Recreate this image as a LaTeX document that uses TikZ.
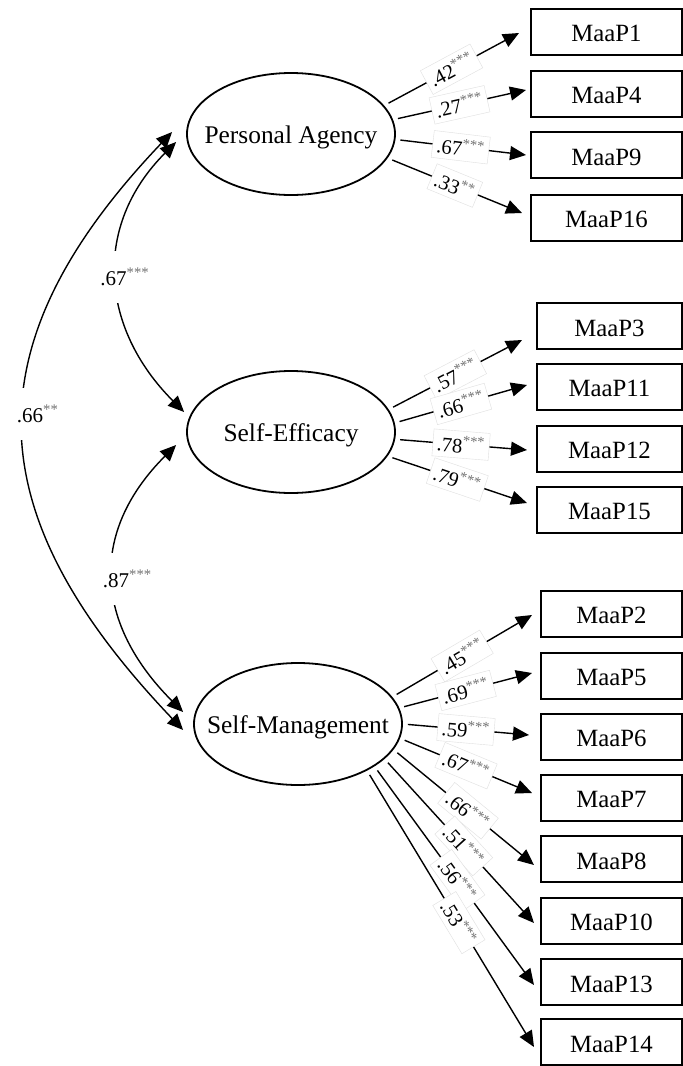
\documentclass[tikz,border=0pt]{standalone}
\usepackage{fontspec}
\setmainfont{Liberation Serif}
\usetikzlibrary{shapes.geometric,arrows.meta}
\newcommand\mystars[1]{\textsuperscript{\textcolor{black!55}{#1}}}
\begin{document}
\begin{tikzpicture}[x=0.5pt,y=-0.5pt,
  latent/.style={ellipse,draw,line width=0.9pt,minimum width=104pt,minimum height=61pt,inner sep=0pt,
    label={[font=\fontsize{12.7}{14}\selectfont,inner sep=0pt,yshift=-1.5pt]center:#1}},
  obs/.style={rectangle,draw,line width=1pt,minimum width=#1,minimum height=23pt,inner sep=0pt,text height=1.0em,text depth=0pt,font=\fontsize{12.4}{14}\selectfont},
  tip/.style={Triangle[length=8pt,width=7pt]},
  load/.style={line width=0.7pt,shorten <=2.5pt,-{Triangle[length=8pt,width=7pt]}},
  corr/.style={line width=0.7pt,{Triangle[length=8pt,width=7pt]}-{Triangle[length=8pt,width=7pt]}},
  lab/.style={sloped,pos=0.5,fill=white,draw=gray!25,line width=0.2pt,inner xsep=2pt,inner ysep=2.5pt,font=\fontsize{10.3}{12}\selectfont},
  clab/.style={pos=0.5,fill=white,inner xsep=1pt,minimum height=26pt,font=\fontsize{10.5}{12}\selectfont}
]
\useasboundingbox[fill=white] (0,0) rectangle (683,1066);

% latent variables
\node[latent={Personal Agency}] (pa) at (291,134) {};
\node[latent={Self-Efficacy}]   (se) at (291,432) {};
\node[latent={Self-Management}] (sm) at (298,724) {};

% indicators
\node[obs=75.5pt] (m1)  at (606.5,31.5)  {MaaP1};
\node[obs=75.5pt] (m4)  at (606.5,93.5)  {MaaP4};
\node[obs=75.5pt] (m9)  at (606.5,155)   {MaaP9};
\node[obs=75.5pt] (m16) at (606.5,217.5) {MaaP16};

\node[obs=72.5pt] (m3)  at (609.5,326)   {MaaP3};
\node[obs=72.5pt] (m11) at (609.5,386.5) {MaaP11};
\node[obs=72.5pt] (m12) at (609.5,448.5) {MaaP12};
\node[obs=72.5pt] (m15) at (609.5,509.5) {MaaP15};

\node[obs=70.5pt] (m2)  at (611.5,613.5) {MaaP2};
\node[obs=70.5pt] (m5)  at (611.5,675.5) {MaaP5};
\node[obs=70.5pt] (m6)  at (611.5,736.5) {MaaP6};
\node[obs=70.5pt] (m7)  at (611.5,797.5) {MaaP7};
\node[obs=70.5pt] (m8)  at (611.5,859)   {MaaP8};
\node[obs=70.5pt] (m10) at (611.5,920.5) {MaaP10};
\node[obs=70.5pt] (m13) at (611.5,982)   {MaaP13};
\node[obs=70.5pt] (m14) at (611.5,1042)  {MaaP14};

% loadings: Personal Agency
\draw[load] (pa.17)  -- node[lab]{.42\mystars{***}} ([shift={(-11,1.5)}]m1.west);
\draw[load] (pa.8)   -- node[lab]{.27\mystars{***}} ([shift={(-4,-3.5)}]m4.west);
\draw[load] (pa.-3)  -- node[lab]{.67\mystars{***}} ([shift={(-4,0)}]m9.west);
\draw[load] (pa.-14) -- node[lab]{.33\mystars{**}}  ([shift={(-8,-4.5)}]m16.west);

% loadings: Self-Efficacy
\draw[load] (se.13.5) -- node[lab]{.57\mystars{***}} ([shift={(-14,14)}]m3.west);
\draw[load] (se.5)    -- node[lab]{.66\mystars{***}} ([shift={(-9,-1.5)}]m11.west);
\draw[load] (se.-4.6) -- node[lab]{.78\mystars{***}} ([shift={(-9,1.5)}]m12.west);
\draw[load] (se.-14)  -- node[lab]{.79\mystars{***}} ([shift={(-9,-6.5)}]m15.west);

% loadings: Self-Management
\draw[load] (sm.16)    -- node[lab]{.45\mystars{***}} ([shift={(-8,1.5)}]m2.west);
\draw[load] (sm.9)     -- node[lab]{.69\mystars{***}} ([shift={(-8,-2.5)}]m5.west);
\draw[load] (sm.0)     -- node[lab]{.59\mystars{***}} ([shift={(-11,-1.5)}]m6.west);
\draw[load] (sm.-8)    -- node[lab]{.67\mystars{***}} ([shift={(-8,-4.5)}]m7.west);
\draw[load] (sm.-15)   -- node[lab,pos=0.53]{.66\mystars{***}} ([shift={(-6,6)}]m8.west);
\draw[load] (sm.-22.5) -- node[lab,pos=0.53]{.51\mystars{***}} ([shift={(-6,2.5)}]m10.west);
\draw[load] (sm.-29.5) -- node[lab,pos=0.52]{.56\mystars{***}} ([shift={(-6,3)}]m13.west);
\draw[load] (sm.-34.5) -- node[lab,pos=0.55]{.53\mystars{***}} ([shift={(-6,5)}]m14.west);

% correlations
\draw[corr] ([shift={(-10,8)}]pa.west) .. controls +(-84,84) and +(-84,-84) .. ([shift={(-2,-20)}]se.west)
  node[clab,xshift=4pt]{.67\mystars{***}};
\draw[corr] ([shift={(-10,13)}]se.west) .. controls +(-88,88) and +(-88,-88) .. ([shift={(-10,-12)}]sm.west)
  node[clab,xshift=7pt]{.87\mystars{***}};
\draw[corr] ([shift={(-14,-2)}]pa.west) .. controls +(-205,215) and +(-205,-215) .. ([shift={(-10,6)}]sm.west)
  node[clab,pos=0.47,xshift=7pt]{.66\mystars{**}};
\end{tikzpicture}
\end{document}
